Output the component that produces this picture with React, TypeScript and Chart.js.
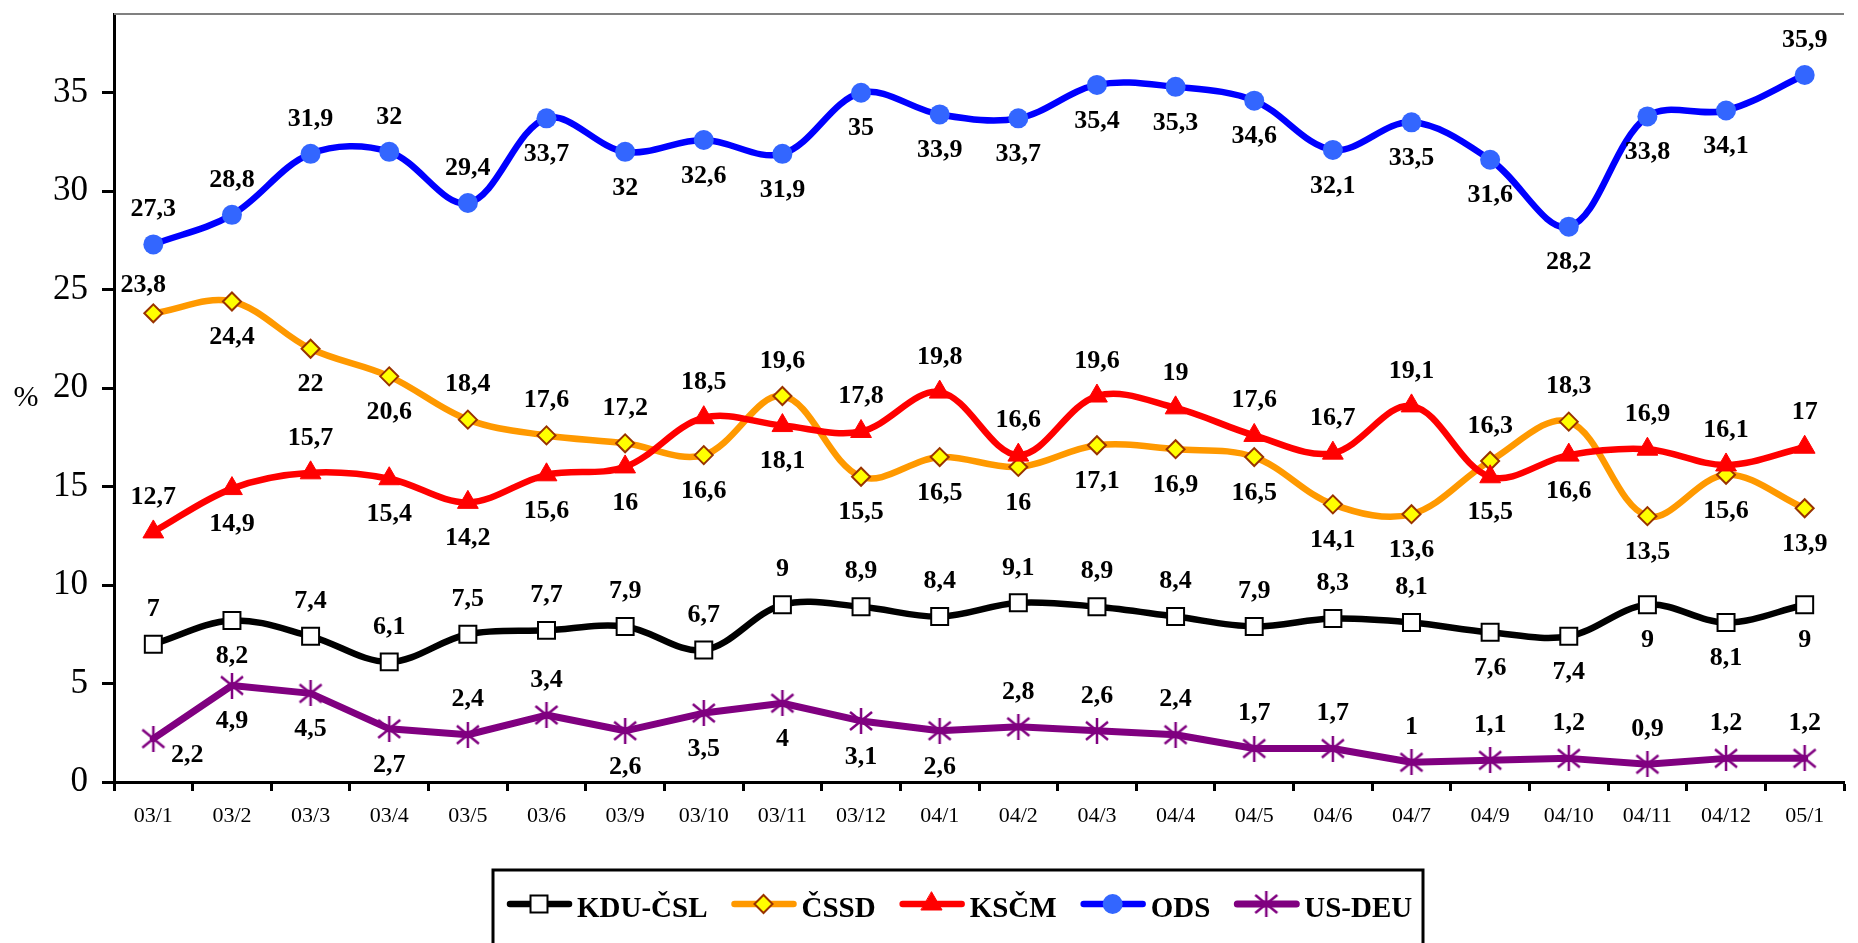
import React, { useEffect, useRef } from 'react';
import { Chart, registerables } from 'chart.js';
import { drawPoint } from 'chart.js/helpers';

Chart.register(...registerables);

const categories = ['03/1', '03/2', '03/3', '03/4', '03/5', '03/6', '03/9', '03/10', '03/11', '03/12', '04/1', '04/2', '04/3', '04/4', '04/5', '04/6', '04/7', '04/9', '04/10', '04/11', '04/12', '05/1'];
const seriesNames = ['KDU-ČSL', 'ČSSD', 'KSČM', 'ODS', 'US-DEU'];
const kduCsl = [7, 8.2, 7.4, 6.1, 7.5, 7.7, 7.9, 6.7, 9, 8.9, 8.4, 9.1, 8.9, 8.4, 7.9, 8.3, 8.1, 7.6, 7.4, 9, 8.1, 9];
const cssd = [23.8, 24.4, 22, 20.6, 18.4, 17.6, 17.2, 16.6, 19.6, 15.5, 16.5, 16, 17.1, 16.9, 16.5, 14.1, 13.6, 16.3, 18.3, 13.5, 15.6, 13.9];
const kscm = [12.7, 14.9, 15.7, 15.4, 14.2, 15.6, 16, 18.5, 18.1, 17.8, 19.8, 16.6, 19.6, 19, 17.6, 16.7, 19.1, 15.5, 16.6, 16.9, 16.1, 17];
const ods = [27.3, 28.8, 31.9, 32, 29.4, 33.7, 32, 32.6, 31.9, 35, 33.9, 33.7, 35.4, 35.3, 34.6, 32.1, 33.5, 31.6, 28.2, 33.8, 34.1, 35.9];
const usDeu = [2.2, 4.9, 4.5, 2.7, 2.4, 3.4, 2.6, 3.5, 4, 3.1, 2.6, 2.8, 2.6, 2.4, 1.7, 1.7, 1, 1.1, 1.2, 0.9, 1.2, 1.2];
const yTickValues = [0, 5, 10, 15, 20, 25, 30, 35];
const yMax = 39;
const yAxisTitle = '%';

// label placement per point: a = above, b = below, r = right-below, l = above-left
const kduPlace = ['a', 'b', 'a', 'a', 'a', 'a', 'a', 'a', 'a', 'a', 'a', 'a', 'a', 'a', 'a', 'a', 'a', 'b', 'b', 'b', 'b', 'b'];
const cssdPlace = ['l', 'b', 'b', 'b', 'a', 'a', 'a', 'b', 'a', 'b', 'b', 'b', 'b', 'b', 'b', 'b', 'b', 'a', 'a', 'b', 'b', 'b'];
const kscmPlace = ['a', 'b', 'a', 'b', 'b', 'b', 'b', 'a', 'b', 'a', 'a', 'a', 'a', 'a', 'a', 'a', 'a', 'b', 'b', 'a', 'a', 'a'];
const odsPlace = ['a', 'a', 'a', 'a', 'a', 'b', 'b', 'b', 'b', 'b', 'b', 'b', 'b', 'b', 'b', 'b', 'b', 'b', 'b', 'b', 'b', 'a'];
const usDeuPlace = ['r', 'b', 'b', 'b', 'a', 'a', 'b', 'b', 'b', 'b', 'b', 'a', 'a', 'a', 'a', 'a', 'a', 'a', 'a', 'a', 'a', 'a'];

const SERIF = '"Liberation Serif", "Times New Roman", serif';

function makeAsterisk(size: number, color: string, lw: number) {
  const c = document.createElement('canvas');
  c.width = size;
  c.height = size;
  const ctx = c.getContext('2d')!;
  ctx.strokeStyle = color;
  ctx.lineWidth = lw;
  const m = 2;
  ctx.beginPath();
  ctx.moveTo(m, m + 2);
  ctx.lineTo(size - m, size - m - 2);
  ctx.moveTo(size - m, m + 2);
  ctx.lineTo(m, size - m - 2);
  ctx.moveTo(size / 2, 0);
  ctx.lineTo(size / 2, size);
  ctx.stroke();
  return c;
}

const fmt = (v: number) => String(v).replace('.', ',');

export default function App() {
  const ref = useRef<HTMLCanvasElement>(null);

  useEffect(() => {
    if (!ref.current) return;
    const star = makeAsterisk(26, '#800080', 2.5);
    const places = [kduPlace, cssdPlace, kscmPlace, odsPlace, usDeuPlace];
    const values = [kduCsl, cssd, kscm, ods, usDeu];

    const styles: any[] = [
      { borderColor: '#000000', pointStyle: 'rect', pointRadius: 12, pointBackgroundColor: '#ffffff', pointBorderColor: '#000000', pointBorderWidth: 2, tension: 0.35, borderWidth: 6.5 },
      { borderColor: '#FF9900', pointStyle: 'rectRot', pointRadius: 9, pointBackgroundColor: '#FFFF00', pointBorderColor: '#993300', pointBorderWidth: 2, tension: 0.35, borderWidth: 6.5 },
      { borderColor: '#FF0000', pointStyle: 'triangle', pointRadius: 12, pointBackgroundColor: '#FF0000', pointBorderColor: '#FF0000', pointBorderWidth: 1, tension: 0.35, borderWidth: 6.5 },
      { borderColor: '#0000FF', pointStyle: 'circle', pointRadius: 10, pointBackgroundColor: '#3366FF', pointBorderColor: '#3366FF', pointBorderWidth: 0, tension: 0.35, borderWidth: 6.5 },
      { borderColor: '#800080', pointStyle: star, pointRadius: 12, pointBackgroundColor: '#800080', pointBorderColor: '#800080', pointBorderWidth: 0, tension: 0, borderWidth: 7 },
    ];

    const datasets = seriesNames.map((name, i) => ({
      label: name,
      data: values[i],
      fill: false,
      borderCapStyle: 'round',
      borderJoinStyle: 'round',
      pointHoverRadius: styles[i].pointRadius,
      order: seriesNames.length - i,
      clip: false,
      ...styles[i],
    }));

    const labelsPlugin = {
      id: 'valueLabels',
      afterDatasetsDraw(chart: any) {
        const ctx = chart.ctx;
        ctx.save();
        ctx.font = `bold 26px ${SERIF}`;
        ctx.fillStyle = '#000000';
        ctx.textAlign = 'center';
        ctx.textBaseline = 'middle';
        chart.data.datasets.forEach((ds: any, di: number) => {
          const meta = chart.getDatasetMeta(di);
          meta.data.forEach((pt: any, i: number) => {
            const p = places[di][i];
            let dx = 0;
            let dy = -35;
            if (p === 'b') dy = 36;
            if (p === 'r') { dx = 34; dy = 17; }
            if (p === 'l') { dx = -10; dy = -28; }
            ctx.fillText(fmt(ds.data[i]), pt.x + dx, pt.y + dy);
          });
        });
        ctx.restore();
      },
    };

    const framePlugin = {
      id: 'frame',
      afterDraw(chart: any) {
        const ctx = chart.ctx;
        const a = chart.chartArea;
        ctx.save();
        ctx.strokeStyle = '#808080';
        ctx.lineWidth = 2;
        ctx.beginPath();
        ctx.moveTo(a.left, a.top);
        ctx.lineTo(a.right, a.top);
        ctx.stroke();
        ctx.fillStyle = '#000000';
        ctx.font = `30px ${SERIF}`;
        ctx.textAlign = 'center';
        ctx.textBaseline = 'middle';
        ctx.fillText(yAxisTitle, 26, (a.top + a.bottom) / 2);

        const boxLeft = 493;
        const boxTop = 870;
        const boxRight = 1423;
        ctx.strokeStyle = '#000000';
        ctx.lineWidth = 3;
        ctx.strokeRect(boxLeft, boxTop, boxRight - boxLeft, 120);
        ctx.font = `bold 29px ${SERIF}`;
        ctx.textAlign = 'left';
        ctx.textBaseline = 'alphabetic';
        let x = 507;
        const ly = 904;
        chart.data.datasets.forEach((ds: any) => {
          ctx.strokeStyle = ds.borderColor;
          ctx.lineWidth = ds.borderWidth;
          ctx.lineCap = 'round';
          ctx.beginPath();
          ctx.moveTo(x + 3, ly);
          ctx.lineTo(x + 62, ly);
          ctx.stroke();
          ctx.fillStyle = ds.pointBackgroundColor;
          ctx.strokeStyle = ds.pointBorderColor;
          ctx.lineWidth = ds.pointBorderWidth;
          drawPoint(ctx, { pointStyle: ds.pointStyle, rotation: 0, radius: ds.pointRadius, borderWidth: ds.pointBorderWidth } as any, x + 32, ly);
          ctx.fillStyle = '#000000';
          ctx.fillText(ds.label, x + 70, 917);
          x += 70 + ctx.measureText(ds.label).width + 24;
        });
        ctx.restore();
      },
    };

    const chart = new Chart(ref.current, {
      type: 'line',
      data: { labels: categories, datasets: datasets as any },
      options: {
        responsive: false,
        animation: false,
        events: [],
        layout: { padding: { top: 11, right: 0, left: 0, bottom: 0 } },
        plugins: {
          legend: { display: false },
          tooltip: { enabled: false },
          title: { display: false },
        },
        scales: {
          x: {
            type: 'category',
            offset: true,
            afterFit: (scale: any) => { scale.height = 161; scale.paddingLeft = 0; scale.paddingRight = 0; },
            grid: { drawOnChartArea: false, drawTicks: true, tickLength: 9, tickWidth: 3, tickColor: '#000000', offset: true },
            border: { display: true, color: '#000000', width: 3 },
            ticks: { color: '#000000', font: { family: SERIF, size: 22 }, padding: 12, maxRotation: 0, autoSkip: false },
          },
          y: {
            min: 0,
            max: yMax,
            afterFit: (scale: any) => { scale.width = 114; scale.paddingTop = 0; scale.paddingBottom = 0; },
            afterBuildTicks: (scale: any) => { scale.ticks = yTickValues.map((v) => ({ value: v })); },
            grid: { drawOnChartArea: false, drawTicks: true, tickLength: 12, tickWidth: 3, tickColor: '#000000' },
            border: { display: true, color: '#000000', width: 3 },
            ticks: { color: '#000000', font: { family: SERIF, size: 35 }, padding: 14, includeBounds: false },
          },
        },
      } as any,
      plugins: [labelsPlugin, framePlugin],
    });
    return () => chart.destroy();
  }, []);

  return (
    <div style={{ position: 'absolute', left: 0, top: 0, width: 1858, height: 943, background: '#ffffff' }}>
      <canvas ref={ref} width={1858} height={943} style={{ display: 'block', width: 1858, height: 943 }} />
    </div>
  );
}
